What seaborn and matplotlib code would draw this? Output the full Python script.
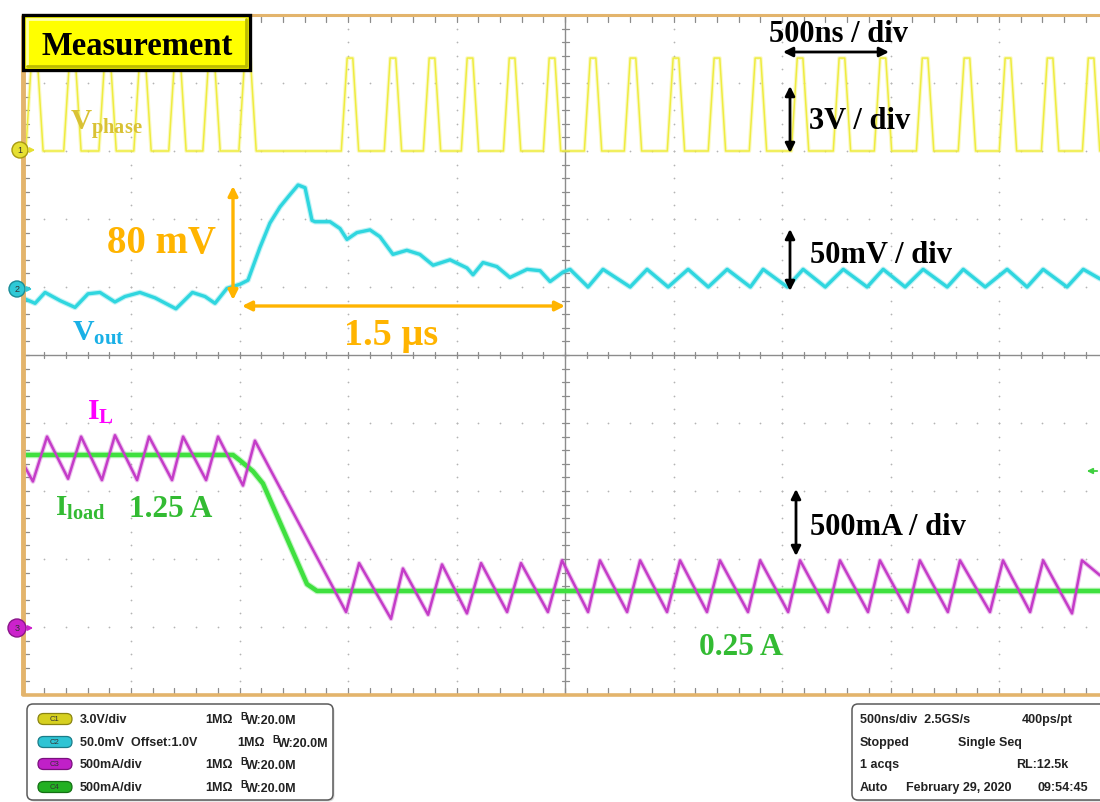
import numpy as np
import pandas as pd
import matplotlib
matplotlib.use("Agg")
import matplotlib.pyplot as plt
from matplotlib.patches import FancyBboxPatch, Rectangle, Circle, FancyArrowPatch
import seaborn as sns

sns.set_theme(style="white")
plt.rcParams["font.family"] = ["Liberation Serif", "DejaVu Serif"]
plt.rcParams["mathtext.fontset"] = "custom"
plt.rcParams["mathtext.rm"] = "Liberation Serif:bold"
plt.rcParams["mathtext.it"] = "Liberation Serif:bold"
plt.rcParams["mathtext.bf"] = "Liberation Serif:bold"

# ---------------- scope settings ----------------
TIME_PER_DIV_NS = 500
T_VISIBLE_NS = 4965          # right edge of the visible screen
ch_scale = {"C1": 3.0, "C2": 50.0, "C3": 0.5, "C4": 0.5}   # V, mV, A, A per div
ch_pos = {"C1": 3.0, "C2": 1.0, "C3": -4.0, "C4": -3.97}   # ground position in div
ch_color = {"C1": "#efec40", "C2": "#2fd6df", "C3": "#c43cc8", "C4": "#3fe03f"}

# ---------------- measured traces ----------------
# C1: switch-node voltage, pulse centres (ns) and levels (V)
vphase_pulse_ns = [55, 230, 392, 553, 714, 871, 1037,
                   1509, 1707, 1887, 2062, 2256, 2440, 2629, 2813, 3011,
                   3200, 3389, 3583, 3776, 3965, 4159, 4352, 4541, 4735, 4924]
vphase_high_v = 4.1
vphase_low_v = 0.0
pulse_base_ns = 80
pulse_top_ns = 26

# C2: output voltage deviation (mV) around the 1.0 V offset
vout_t_ns = [0, 58, 104, 173, 242, 302, 357, 426, 472, 541, 611, 707, 783, 841,
             887, 942, 1002, 1039, 1094, 1140, 1187, 1233, 1270, 1302, 1334, 1348,
             1417, 1463, 1495, 1541, 1601, 1647, 1707, 1771, 1831, 1892, 1970, 2048,
             2076, 2122, 2186, 2246, 2325, 2385, 2431, 2491, 2523, 2606, 2675, 2800,
             2878, 2975, 3067, 3160, 3247, 3354, 3413, 3524, 3597, 3699, 3782, 3892,
             3966, 4067, 4150, 4261, 4335, 4436, 4537, 4629, 4703, 4813, 4888, 4965]
vout_mv = [-8, -12, -4, -10, -15, -5, -4, -11, -7, -4, -8, -16, -4, -7,
           -12, -1, 2, 5, 29, 47, 59, 68, 75, 73, 49, 48,
           48, 43, 35, 40, 42, 37, 24, 27, 24, 16, 20, 14,
           9, 18, 15, 7, 13, 12, 4, 11, 13, 0, 13, 0,
           13, 0, 13, 0, 13, 0, 13, 0, 13, 0, 13, 0,
           13, 0, 13, 0, 13, 0, 13, 0, 13, 0, 13, 6]

# C3: inductor current (A), peaks and valleys
il_t_ns = [0, 48, 113, 210, 270, 366, 426, 528, 583, 689, 740, 846, 901, 1016, 1071,
           1491, 1551, 1698, 1753, 1869, 1933, 2048, 2113, 2233, 2297, 2421, 2486,
           2606, 2661, 2786, 2846, 2970, 3030, 3154, 3214, 3343, 3399, 3528, 3583,
           3712, 3767, 3896, 3951, 4080, 4135, 4264, 4320, 4458, 4518, 4643, 4703,
           4836, 4882, 4965]
il_a = [1.21, 1.07, 1.40, 1.09, 1.40, 1.08, 1.41, 1.08, 1.40, 1.08, 1.40, 1.08, 1.40,
        1.04, 1.37,
        0.11, 0.47, 0.06, 0.43, 0.09, 0.46, 0.10, 0.47, 0.11, 0.47, 0.11, 0.49,
        0.11, 0.49, 0.11, 0.49, 0.11, 0.49, 0.11, 0.49, 0.11, 0.49, 0.11, 0.49,
        0.11, 0.49, 0.11, 0.49, 0.11, 0.49, 0.11, 0.49, 0.11, 0.49, 0.11, 0.49,
        0.10, 0.49, 0.38]

# C4: load current (A), 1.25 A -> 0.25 A step
iload_t_ns = [0, 970, 1002, 1062, 1108, 1311, 1357, 4965]
iload_a = [1.25, 1.25, 1.21, 1.13, 1.04, 0.30, 0.25, 0.25]

# ---------------- build tables ----------------
ph_t, ph_v = [0], [vphase_low_v]
for c in vphase_pulse_ns:
    ph_t += [c - pulse_base_ns / 2, c - pulse_top_ns / 2, c + pulse_top_ns / 2, c + pulse_base_ns / 2]
    ph_v += [vphase_low_v, vphase_high_v, vphase_high_v, vphase_low_v]
ph_t.append(T_VISIBLE_NS)
ph_v.append(vphase_low_v)

traces = {
    "C1": pd.DataFrame({"t": ph_t, "v": ph_v}),
    "C2": pd.DataFrame({"t": vout_t_ns, "v": vout_mv}),
    "C4": pd.DataFrame({"t": iload_t_ns, "v": iload_a}),
    "C3": pd.DataFrame({"t": il_t_ns, "v": il_a}),
}
for ch, df in traces.items():
    df["div"] = df["v"] / ch_scale[ch] + ch_pos[ch]

# ---------------- figure ----------------
W, H = 1100, 802
fig = plt.figure(figsize=(W / 100, H / 100), dpi=100)
fig.patch.set_facecolor("white")

x0_px, top_px, bot_px = 22.5, 15, 695
ax = fig.add_axes([x0_px / W, (H - bot_px) / H, (W - x0_px) / W, (bot_px - top_px) / H])
ax.set_xlim(0, T_VISIBLE_NS)
ax.set_ylim(-5, 5)
ax.set_facecolor("white")
for s in ax.spines.values():
    s.set_visible(False)
ax.set_xticks([])
ax.set_yticks([])

# graticule dots
dot_c = "#b4b4b4"
for k in range(1, 10):
    if k == 5:
        continue
    xs = k * TIME_PER_DIV_NS
    ys = np.arange(-4.8, 4.81, 0.2)
    ax.scatter(np.full_like(ys, xs), ys, s=1.6, color=dot_c, lw=0, zorder=1)
for j in range(-4, 5):
    if j == 0:
        continue
    xs = np.arange(100, T_VISIBLE_NS, 100)
    ax.scatter(xs, np.full_like(xs, j, dtype=float), s=1.6, color=dot_c, lw=0, zorder=1)

# centre cross with minor ticks
line_c = "#8c8c8c"
ax.axvline(2500, color=line_c, lw=1.0, zorder=1)
ax.axhline(0, color=line_c, lw=1.0, zorder=1)
for yy in np.arange(-4.8, 4.81, 0.2):
    ax.plot([2500 - 16, 2500 + 16], [yy, yy], color=line_c, lw=0.9, zorder=1)
for xx in np.arange(100, T_VISIBLE_NS, 100):
    ax.plot([xx, xx], [-0.05, 0.05], color=line_c, lw=0.9, zorder=1)
    ax.plot([xx, xx], [5, 4.9], color=line_c, lw=0.9, zorder=1)
    ax.plot([xx, xx], [-5, -4.9], color=line_c, lw=0.9, zorder=1)
for yy in np.arange(-4.8, 4.81, 0.2):
    ax.plot([0, 28], [yy, yy], color=line_c, lw=0.9, zorder=1)

# screen frame
frame_c = "#e3b46c"
ax.plot([0, 0], [-5, 5], color=frame_c, lw=3.5, zorder=5, clip_on=False, solid_capstyle="butt")
ax.plot([0, T_VISIBLE_NS], [5, 5], color=frame_c, lw=2.2, zorder=5, clip_on=False)
ax.plot([0, T_VISIBLE_NS], [-5, -5], color=frame_c, lw=2.6, zorder=5, clip_on=False)

# traces
widths = {"C1": 1.1, "C2": 2.4, "C4": 3.2, "C3": 1.8}
for ch in ["C1", "C2", "C4", "C3"]:
    df = traces[ch]
    sns.lineplot(data=df, x="t", y="div", ax=ax, color=ch_color[ch], lw=widths[ch] + 1.6,
                 alpha=0.3, sort=False, estimator=None, zorder=3)
    sns.lineplot(data=df, x="t", y="div", ax=ax, color=ch_color[ch], lw=widths[ch],
                 sort=False, estimator=None, zorder=4)
ax.set_xlabel("")
ax.set_ylabel("")

# ---------------- overlay in pixel units ----------------
ov = fig.add_axes([0, 0, 1, 1], zorder=10)
ov.set_xlim(0, W)
ov.set_ylim(H, 0)
ov.axis("off")
ov.patch.set_alpha(0)

serif_b = dict(family=["Liberation Serif", "DejaVu Serif"], fontweight="bold")
sans_b = dict(family=["Liberation Sans", "DejaVu Sans"], fontweight="bold")

# title badge
ov.add_patch(Rectangle((23, 15), 227, 55, facecolor="#ffff00", edgecolor="black", lw=2.4, zorder=11))
ov.plot([27, 246], [19, 19], color="#ffffa8", lw=2, zorder=12)
ov.plot([27, 27], [19, 66], color="#ffffa8", lw=2, zorder=12)
ov.plot([27, 246], [66, 66], color="#bcbc00", lw=2, zorder=12)
ov.plot([246, 246], [19, 66], color="#bcbc00", lw=2, zorder=12)
ov.text(137, 55, "Measurement", ha="center", va="baseline", fontsize=23.5, color="black",
        zorder=13, **serif_b)

# scale annotations
def darrow(p0, p1, color, lw=2.0, ms=14):
    ov.add_patch(FancyArrowPatch(p0, p1, arrowstyle="<|-|>", mutation_scale=ms, color=color,
                                 lw=lw, shrinkA=0, shrinkB=0, zorder=12))

darrow((783, 52), (889, 52), "black")
ov.text(769, 42, "500ns / div", ha="left", va="baseline", fontsize=22, color="black", **serif_b)
darrow((790, 86), (790, 153), "black")
ov.text(809, 129, "3V / div", ha="left", va="baseline", fontsize=22, color="black", **serif_b)
darrow((790, 229), (790, 291), "black")
ov.text(810, 263, "50mV / div", ha="left", va="baseline", fontsize=22, color="black", **serif_b)
darrow((796, 489), (796, 556), "black")
ov.text(810, 535, "500mA / div", ha="left", va="baseline", fontsize=22, color="black", **serif_b)

orange = "#ffb400"
darrow((233, 186), (233, 300), orange, lw=2.4, ms=14)
ov.text(107, 253, "80 mV", ha="left", va="baseline", fontsize=28, color=orange, **serif_b)
darrow((242, 306), (565, 306), orange, lw=2.4, ms=14)
ov.text(344, 345, "1.5 µs", ha="left", va="baseline", fontsize=27.5, color=orange, **serif_b)

# channel names
ov.text(70, 130, r"$\mathrm{V_{phase}}$", ha="left", va="baseline", fontsize=21, color="#d9c234")
ov.text(72, 341, r"$\mathrm{V_{out}}$", ha="left", va="baseline", fontsize=21.5, color="#1ab0e6")
ov.text(87, 420, r"$\mathrm{I_{L}}$", ha="left", va="baseline", fontsize=21.5, color="#ff00ff")
ov.text(55, 516, r"$\mathrm{I_{load}}$", ha="left", va="baseline", fontsize=21, color="#33bb33")
ov.text(129, 517, "1.25 A", ha="left", va="baseline", fontsize=22.5, color="#33bb33", **serif_b)
ov.text(699, 655, "0.25 A", ha="left", va="baseline", fontsize=22.5, color="#33bb33", **serif_b)

# channel ground markers
def marker(cx, cy, r, face, edge, label, arrow=True):
    ov.add_patch(Circle((cx, cy), r, facecolor=face, edgecolor=edge, lw=1.0, zorder=12))
    ov.text(cx, cy + 0.5, label, ha="center", va="center", fontsize=6.5, color="#333333",
            zorder=13, family=["Liberation Sans", "DejaVu Sans"])
    if arrow:
        ov.add_patch(FancyArrowPatch((cx + r, cy), (cx + r + 10, cy), arrowstyle="-|>",
                                     mutation_scale=7, color=face, lw=1.3, zorder=12))

marker(20, 150, 8, "#e6e032", "#a89a10", "1")
marker(17, 289, 8, "#2fc9d6", "#1a8c96", "2")
marker(17, 628, 9, "#cc22cc", "#8a168a", "3")
ov.add_patch(FancyArrowPatch((1100, 471), (1084, 471), arrowstyle="-|>", mutation_scale=8,
                             color="#3fd03f", lw=1.3, zorder=12))

# ---------------- settings panels ----------------
txt_c = "#222222"
for (bx, bw) in [(27, 306), (852, 260)]:
    ov.add_patch(FancyBboxPatch((bx + 1.5, 705.5), bw, 96, boxstyle="round,pad=0,rounding_size=6",
                                facecolor="#d8d8d8", edgecolor="none", zorder=11))
    ov.add_patch(FancyBboxPatch((bx, 704), bw, 96, boxstyle="round,pad=0,rounding_size=6",
                                facecolor="white", edgecolor="#5a5a5a", lw=1.1, zorder=12))

rows_y = [719, 742, 764, 787]
pill_face = ["#d6d020", "#2ec4d4", "#c020c8", "#22b022"]
pill_edge = ["#8a8410", "#1a7c88", "#7a107e", "#147014"]
pill_lab = ["C1", "C2", "C3", "C4"]
ch_text = ["3.0V/div", "50.0mV  Offset:1.0V", "500mA/div", "500mA/div"]
imp_x = [205, 237, 205, 205]
for y, pf, pe, pl, t, ix in zip(rows_y, pill_face, pill_edge, pill_lab, ch_text, imp_x):
    ov.add_patch(FancyBboxPatch((38, y - 5.5), 34, 11, boxstyle="round,pad=0,rounding_size=5.5",
                                facecolor=pf, edgecolor=pe, lw=0.9, zorder=13))
    ov.text(55, y + 0.5, pl, ha="center", va="center", fontsize=5.5, color="#333333", zorder=14,
            family=["Liberation Sans", "DejaVu Sans"])
    ov.text(80, y + 4, t, ha="left", va="baseline", fontsize=9, color=txt_c, zorder=14, **sans_b)
    ov.text(ix, y + 4, "1MΩ", ha="left", va="baseline", fontsize=9, color=txt_c, zorder=14, **sans_b)
    ov.text(ix + 35, y + 1, "B", ha="left", va="baseline", fontsize=7, color=txt_c, zorder=14, **sans_b)
    ov.text(ix + 41, y + 5, "W:20.0M", ha="left", va="baseline", fontsize=9, color=txt_c, zorder=14, **sans_b)

right_items = [
    (860, 719, "500ns/div  2.5GS/s"), (1022, 719, "400ps/pt"),
    (860, 742, "Stopped"), (958, 742, "Single Seq"),
    (860, 764, "1 acqs"), (1016, 764, "RL:12.5k"),
    (860, 787, "Auto"), (906, 787, "February 29, 2020"), (1037, 787, "09:54:45"),
]
for x, y, t in right_items:
    ov.text(x, y + 4, t, ha="left", va="baseline", fontsize=9, color=txt_c, zorder=14, **sans_b)

fig.savefig("out.png", dpi=100, facecolor="white")
